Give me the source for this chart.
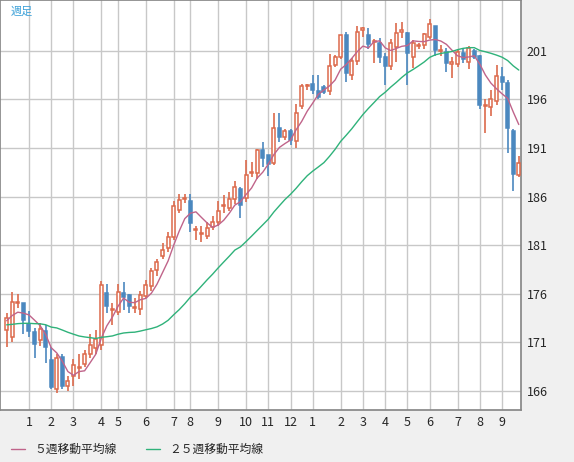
import numpy as np, pandas as pd, seaborn as sns, matplotlib
matplotlib.use("Agg")
import matplotlib.pyplot as plt
from matplotlib.lines import Line2D

sns.set_theme(style="white")
plt.rcParams['font.family'] = ['Noto Sans CJK JP', 'DejaVu Sans']

opens = [172.2,171.5,175.0,175.0,172.9,172.0,171.2,172.1,169.2,166.2,169.5,166.5,167.5,168.3,168.7,169.8,170.4,170.7,176.1,174.3,174.1,176.1,175.9,174.5,174.4,175.7,176.8,178.4,179.9,
         180.7,181.8,184.6,185.7,185.5,182.5,182.1,181.9,182.9,183.4,185.0,184.8,185.7,186.8,185.8,188.4,188.4,190.8,190.3,189.5,193.1,192.1,192.7,191.7,195.3,197.4,197.6,196.9,
         197.3,196.9,199.6,200.4,202.6,198.5,200.0,203.2,202.6,201.9,201.8,200.4,199.4,201.4,203.0,202.8,200.4,201.5,201.6,202.4,203.6,201.0,200.9,199.7,199.7,200.8,199.9,201.0,200.5,195.3,195.2,195.8,198.3,197.7,192.7,188.2]
closes = [173.5,175.1,175.0,173.3,172.1,170.8,172.3,170.5,166.4,169.4,166.5,167.0,168.6,168.3,169.8,170.7,171.3,176.9,174.7,174.3,176.2,175.6,174.7,174.5,175.8,176.9,178.3,179.3,180.5,
          181.8,185.0,185.6,185.7,183.3,182.5,182.1,182.8,183.4,184.5,185.0,185.7,187.0,185.1,188.2,188.4,190.8,190.0,189.3,193.1,192.1,192.8,191.8,194.6,197.4,197.4,197.0,196.3,
          196.8,199.5,200.4,202.6,198.7,200.0,203.0,203.2,201.7,201.9,200.4,199.4,201.8,202.8,203.0,200.8,201.8,201.5,202.7,203.8,201.1,201.0,199.8,199.7,200.9,200.2,201.3,200.4,195.4,195.3,196.0,198.4,197.8,193.1,188.3,189.5]
highs = [174.0,176.2,176.0,175.0,174.2,172.4,173.0,172.8,170.5,169.8,169.8,167.5,169.3,169.8,170.2,171.8,172.2,177.3,177.0,175.0,177.0,177.2,176.0,175.5,176.3,177.4,178.6,179.6,181.2,
         182.3,185.5,186.3,186.3,186.3,183.0,183.0,183.4,184.0,185.5,186.2,186.5,187.6,187.0,189.8,189.6,190.9,191.6,190.2,194.6,194.6,193.0,193.0,195.5,197.6,197.6,198.5,198.5,
         197.5,200.7,200.6,202.6,203.0,200.3,203.6,203.5,203.4,202.2,202.3,200.8,202.2,203.9,204.0,203.0,202.1,201.8,202.9,204.3,203.6,201.6,201.3,200.4,201.2,201.3,201.5,201.2,200.6,196.0,197.0,199.6,199.3,198.0,193.0,190.2]
lows = [170.5,171.0,174.5,171.8,171.5,169.4,170.6,168.8,166.2,165.8,166.2,166.0,166.5,167.2,168.4,169.4,169.8,170.2,174.0,172.8,173.8,174.3,174.0,174.0,173.8,175.5,176.3,177.8,179.6,
        180.3,181.5,184.3,185.3,182.3,181.5,181.3,181.6,182.6,183.0,184.3,184.5,185.2,183.8,185.4,188.0,187.8,189.0,188.1,189.2,191.6,191.8,191.3,191.0,195.0,197.0,196.6,196.0,
        196.6,196.5,199.3,200.2,197.8,198.0,199.6,202.4,201.2,199.8,199.8,197.5,199.0,199.9,202.3,197.5,199.2,201.2,201.2,202.2,200.5,200.5,198.8,198.2,199.3,199.8,199.1,200.2,195.0,192.5,194.3,195.4,197.0,190.5,186.6,188.0]
prior_closes = [173.8,173.2,172.5,172.0,171.8,172.6,173.0,172.4,171.6,171.9,172.8,173.5,173.0,172.2,172.5,173.4,174.0,173.1,172.3,171.8,172.4,173.3,173.8,173.0]

month_labels = ["1","2","3","4","5","6","7","8","9","10","11","12","1","2","3","4","5","6","7","8","9"]
month_idx = [4,8,12,17,20,25,30,33,38,43,47,51,55,60,64,68,72,76,81,85,89]
yticks = [166,171,176,181,186,191,196,201]

n = len(closes)
x = np.arange(n)
allc = pd.Series(prior_closes + closes)
ma5 = allc.rolling(5).mean().values[-n:]
ma25 = allc.rolling(25).mean().values[-n:]
df = pd.DataFrame({"x": x, "ma5": ma5, "ma25": ma25})

UP, DOWN = "#dc6a4c", "#4b88bf"
fig = plt.figure(figsize=(5.74, 4.62), dpi=100, facecolor="#f0f0f0")
ax = fig.add_axes([0, 52/462, 521/574, 410/462])
ax.set_facecolor("white")
for xi, o, c, h, l in zip(x, opens, closes, highs, lows):
    col = UP if c >= o else DOWN
    ax.vlines(xi, l, min(o, c), color=col, lw=1.2, zorder=2)
    ax.vlines(xi, max(o, c), h, color=col, lw=1.2, zorder=2)
    b = max(abs(c - o), 0.12)
    ax.add_patch(plt.Rectangle((xi - 0.27, min(o, c)), 0.54, b, facecolor="white" if c >= o else DOWN,
                               edgecolor=col, lw=1.1, zorder=3))
sns.lineplot(data=df, x="x", y="ma5", ax=ax, color="#c0648a", lw=1, zorder=4)
sns.lineplot(data=df, x="x", y="ma25", ax=ax, color="#2fb27a", lw=1, zorder=4)
ax.set_xlim(-1.2, n - 0.6)
ax.set_ylim(164.0, 206.25)
ax.set_xticks(month_idx)
ax.set_xticklabels(month_labels, fontsize=9)
ax.set_yticks(yticks)
ax.yaxis.tick_right()
ax.set_yticklabels([str(v) for v in yticks], fontsize=9)
ax.tick_params(length=0, pad=4)
ax.grid(True, color="#c8c8c8", lw=1)
ax.set_xlabel(""); ax.set_ylabel("")
for s in ax.spines.values():
    s.set_color("#888888")
ax.text(0.02, 0.985, "週足", transform=ax.transAxes, color="#3aa0d8", fontsize=8, va="top")
fig.legend(handles=[Line2D([], [], color="#c0648a", lw=1), Line2D([], [], color="#2fb27a", lw=1)],
           labels=["５週移動平均線", "２５週移動平均線"], loc="lower left", bbox_to_anchor=(0.0, -0.01),
           ncol=2, frameon=False, fontsize=8.5, handlelength=1.2, columnspacing=2.5)
fig.savefig("out.png", dpi=100, facecolor=fig.get_facecolor())
